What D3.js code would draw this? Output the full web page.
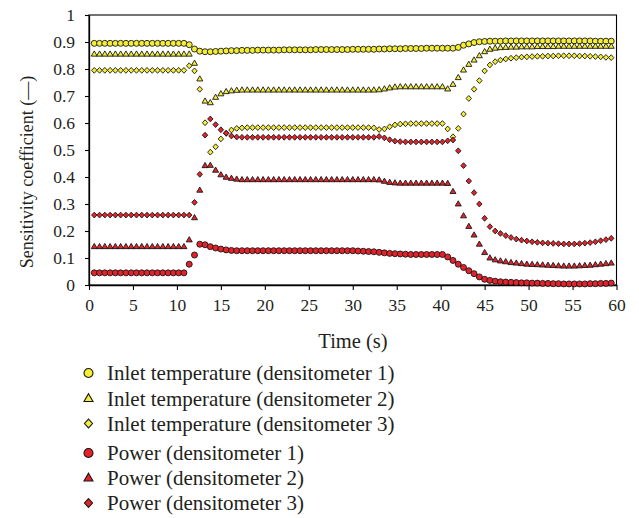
<!DOCTYPE html>
<html>
<head>
<meta charset="utf-8">
<script src="https://cdn.jsdelivr.net/npm/d3@7"></script>
<style>
  body { margin: 0; background: #ffffff; }
  text { font-family: "Liberation Serif", "DejaVu Serif", serif; fill: #231f20; }
</style>
</head>
<body>
<svg id="chart" width="639" height="518"></svg>
<script>
// Sampling interval of the transient (s); sample k sits at k * timeStep
const timeStep = 0.6;

// Sensitivity coefficients, one value per sample
const inletT1 = [
  0.895,0.895,0.895,0.895,0.895,0.895,0.895,0.895,0.895,0.895,
  0.895,0.895,0.895,0.895,0.895,0.895,0.895,0.895,0.890,0.874,
  0.866,0.864,0.864,0.865,0.866,0.867,0.868,0.868,0.869,0.869,
  0.869,0.870,0.870,0.870,0.870,0.870,0.871,0.871,0.871,0.871,
  0.871,0.871,0.872,0.872,0.872,0.872,0.872,0.872,0.872,0.873,
  0.873,0.873,0.873,0.873,0.874,0.874,0.875,0.875,0.875,0.876,
  0.876,0.876,0.876,0.877,0.877,0.877,0.877,0.877,0.877,0.880,
  0.888,0.893,0.898,0.901,0.902,0.903,0.903,0.903,0.904,0.904,
  0.904,0.904,0.904,0.904,0.904,0.904,0.904,0.904,0.904,0.904,
  0.904,0.904,0.904,0.904,0.904,0.903,0.903,0.903,0.903
];
const inletT2 = [
  0.855,0.855,0.855,0.855,0.855,0.855,0.855,0.855,0.855,0.855,
  0.855,0.855,0.855,0.855,0.855,0.855,0.855,0.855,0.855,0.821,
  0.763,0.681,0.675,0.695,0.708,0.716,0.719,0.721,0.722,0.722,
  0.722,0.722,0.722,0.722,0.722,0.722,0.722,0.722,0.722,0.722,
  0.722,0.722,0.722,0.722,0.722,0.722,0.722,0.722,0.722,0.722,
  0.722,0.722,0.722,0.722,0.723,0.726,0.730,0.733,0.734,0.734,
  0.734,0.734,0.734,0.734,0.734,0.734,0.734,0.726,0.743,0.768,
  0.796,0.817,0.833,0.849,0.864,0.873,0.877,0.879,0.880,0.881,
  0.881,0.882,0.882,0.882,0.883,0.883,0.883,0.883,0.884,0.884,
  0.884,0.884,0.884,0.884,0.884,0.884,0.884,0.884,0.884
];
const inletT3 = [
  0.795,0.795,0.795,0.795,0.795,0.795,0.795,0.795,0.795,0.795,
  0.795,0.795,0.795,0.795,0.795,0.795,0.795,0.795,0.812,0.793,
  0.725,0.601,0.492,0.512,0.541,0.562,0.574,0.580,0.582,0.583,
  0.583,0.583,0.583,0.583,0.583,0.583,0.583,0.583,0.583,0.583,
  0.583,0.583,0.583,0.583,0.583,0.583,0.583,0.583,0.583,0.583,
  0.583,0.583,0.583,0.582,0.576,0.578,0.586,0.593,0.596,0.597,
  0.598,0.598,0.598,0.598,0.598,0.598,0.598,0.578,0.549,0.580,
  0.633,0.691,0.725,0.757,0.793,0.815,0.827,0.833,0.837,0.840,
  0.842,0.844,0.845,0.846,0.847,0.847,0.848,0.848,0.849,0.849,
  0.849,0.849,0.848,0.848,0.847,0.846,0.845,0.843,0.842
];
const power1 = [
  0.045,0.045,0.045,0.045,0.045,0.045,0.045,0.045,0.045,0.045,
  0.045,0.045,0.045,0.045,0.045,0.045,0.045,0.045,0.077,0.111,
  0.151,0.149,0.142,0.137,0.133,0.130,0.128,0.127,0.127,0.127,
  0.127,0.127,0.127,0.127,0.127,0.127,0.127,0.127,0.127,0.127,
  0.127,0.127,0.127,0.127,0.127,0.127,0.127,0.127,0.127,0.127,
  0.126,0.125,0.124,0.123,0.121,0.119,0.117,0.116,0.115,0.114,
  0.113,0.113,0.113,0.113,0.113,0.113,0.113,0.104,0.091,0.077,
  0.065,0.053,0.042,0.030,0.021,0.017,0.014,0.012,0.011,0.010,
  0.009,0.008,0.008,0.007,0.007,0.006,0.006,0.005,0.005,0.004,
  0.004,0.004,0.004,0.004,0.005,0.005,0.006,0.006,0.007
];
const power2 = [
  0.142,0.142,0.142,0.142,0.142,0.142,0.142,0.142,0.142,0.142,
  0.142,0.142,0.142,0.142,0.142,0.142,0.142,0.142,0.167,0.249,
  0.351,0.442,0.443,0.425,0.408,0.399,0.395,0.392,0.390,0.390,
  0.390,0.390,0.390,0.390,0.390,0.390,0.390,0.390,0.390,0.390,
  0.390,0.390,0.390,0.390,0.390,0.390,0.390,0.390,0.390,0.390,
  0.390,0.390,0.390,0.390,0.389,0.384,0.380,0.378,0.377,0.377,
  0.377,0.377,0.377,0.377,0.377,0.377,0.377,0.376,0.346,0.300,
  0.256,0.217,0.185,0.151,0.120,0.100,0.093,0.089,0.086,0.083,
  0.081,0.079,0.077,0.076,0.075,0.074,0.073,0.072,0.071,0.070,
  0.070,0.070,0.071,0.072,0.073,0.075,0.077,0.079,0.081
];
const power3 = [
  0.259,0.259,0.259,0.259,0.259,0.259,0.259,0.259,0.259,0.259,
  0.259,0.259,0.259,0.259,0.259,0.259,0.259,0.259,0.259,0.306,
  0.410,0.555,0.615,0.594,0.575,0.562,0.552,0.548,0.547,0.547,
  0.547,0.547,0.547,0.547,0.547,0.547,0.547,0.547,0.547,0.547,
  0.547,0.547,0.547,0.547,0.547,0.547,0.547,0.547,0.547,0.547,
  0.547,0.547,0.547,0.547,0.550,0.545,0.538,0.533,0.531,0.530,
  0.530,0.530,0.530,0.530,0.530,0.530,0.530,0.534,0.537,0.497,
  0.442,0.385,0.342,0.300,0.247,0.216,0.200,0.191,0.183,0.176,
  0.170,0.166,0.163,0.160,0.158,0.156,0.155,0.154,0.153,0.152,
  0.152,0.152,0.153,0.155,0.157,0.160,0.164,0.168,0.173
];

const xTicks = [0, 5, 10, 15, 20, 25, 30, 35, 40, 45, 50, 55, 60];
const yTicks = [0, 0.1, 0.2, 0.3, 0.4, 0.5, 0.6, 0.7, 0.8, 0.9, 1];
const xTitle = "Time (s)";
const yTitle = "Sensitivity coefficient (\u2014)";

const seriesNames = [
  "Inlet temperature (densitometer 1)",
  "Inlet temperature (densitometer 2)",
  "Inlet temperature (densitometer 3)",
  "Power (densitometer 1)",
  "Power (densitometer 2)",
  "Power (densitometer 3)"
];
const seriesValues = [inletT1, inletT2, inletT3, power1, power2, power3];
const seriesShapes = ["circle", "triangle", "diamond", "circle", "triangle", "diamond"];
const YELLOW = "#f4ee34", RED = "#e5222a", EDGE = "#161616";
const seriesFills = [YELLOW, YELLOW, YELLOW, RED, RED, RED];

// ---- layout ----
const svg = d3.select("#chart");
const plot = { left: 89, right: 616.5, top: 15, bottom: 285 };
const x = d3.scaleLinear().domain([0, 60]).range([plot.left, plot.right]);
const y = d3.scaleLinear().domain([0, 1]).range([plot.bottom, plot.top]);

// marker outline paths, centred on the origin
function shapePath(shape, s) {
  if (shape === "triangle") {
    const w = 3.0 * s, h = 5.2 * s;
    return `M0,${-h * 0.62}L${w},${h * 0.38}L${-w},${h * 0.38}Z`;
  }
  const a = 2.9 * s, b = 2.7 * s;
  return `M0,${-a}L${b},0L0,${a}L${-b},0Z`;
}

function drawMarker(sel, shape, fill, s, sw) {
  const el = shape === "circle"
    ? sel.append("circle").attr("r", 3.0 * s)
    : sel.append("path").attr("d", shapePath(shape, s));
  el.attr("fill", fill).attr("stroke", EDGE).attr("stroke-width", sw);
}

// ---- frame ----
svg.append("rect")
  .attr("x", plot.left).attr("y", plot.top)
  .attr("width", plot.right - plot.left).attr("height", plot.bottom - plot.top)
  .attr("fill", "none").attr("stroke", "#000").attr("stroke-width", 1.1);

// ---- axes ----
const tickFont = 17.5, titleFont = 20.5, legendFont = 21;
const xAxis = svg.append("g")
  .attr("transform", `translate(0,${plot.bottom})`)
  .call(d3.axisBottom(x).tickValues(xTicks).tickSize(5).tickSizeOuter(0)
        .tickPadding(9).tickFormat(d3.format("d")));
const yAxis = svg.append("g")
  .attr("transform", `translate(${plot.left},0)`)
  .call(d3.axisLeft(y).tickValues(yTicks).tickSize(4).tickSizeOuter(0)
        .tickPadding(10).tickFormat(d => d === 0 || d === 1 ? d3.format("d")(d) : d3.format(".1f")(d)));
[xAxis, yAxis].forEach(g => {
  g.select(".domain").attr("stroke", "#000").attr("stroke-width", 1.3);
  g.selectAll(".tick line").attr("stroke", "#000").attr("stroke-width", 1.1);
  g.selectAll(".tick text")
    .attr("font-size", tickFont).attr("fill", "#231f20");
});

svg.append("text")
  .attr("x", 353).attr("y", 347.5)
  .attr("text-anchor", "middle").attr("font-size", titleFont)
  .text(xTitle);
svg.append("text")
  .attr("transform", "translate(33,172) rotate(-90)")
  .attr("text-anchor", "middle").attr("font-size", 18)
  .text(yTitle);

// ---- data markers ----
const marks = svg.append("g");
seriesValues.forEach((vals, si) => {
  marks.append("g")
    .selectAll("g")
    .data(vals)
    .join("g")
    .attr("transform", (d, i) => `translate(${x((i + 1) * timeStep)},${y(d)})`)
    .each(function () { drawMarker(d3.select(this), seriesShapes[si], seriesFills[si], 1, 0.9); });
});

// ---- legend ----
const legendRows = [373, 398.5, 423.5, 453, 478, 503];
const legend = svg.append("g");
seriesNames.forEach((name, si) => {
  const row = legend.append("g").attr("transform", `translate(0,${legendRows[si]})`);
  const m = row.append("g").attr("transform", "translate(88.5,0)");
  drawMarker(m, seriesShapes[si], seriesFills[si], 1.5, 1.1);
  row.append("text")
    .attr("x", 107).attr("y", 0).attr("dy", "0.34em")
    .attr("font-size", legendFont)
    .text(name);
});
</script>
</body>
</html>
